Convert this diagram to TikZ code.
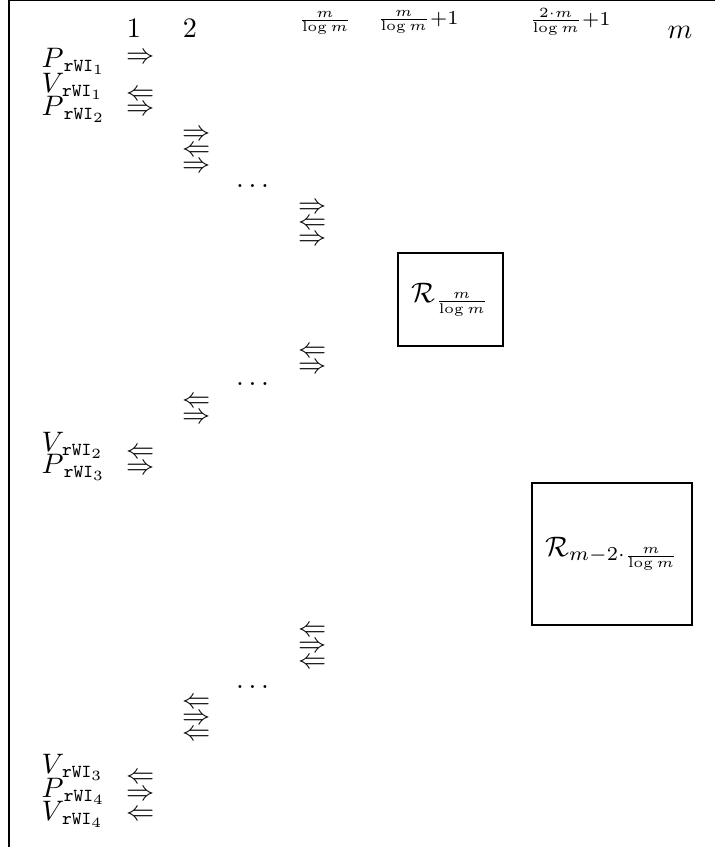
\documentclass[tikz,border=0pt]{standalone}
\usepackage{amsmath}
% typewriter party tag used as a subscript, e.g. P_{rWI_1}
\newcommand{\rwisub}[1]{\hspace{1.5pt}\text{\fontsize{6.5}{7.5}\selectfont\ttfamily rWI}_{#1}}
\begin{document}
\begin{tikzpicture}[x=0.355pt,y=-0.355pt,
  lbl/.style={anchor=base west, inner sep=0pt},
  hdr/.style={anchor=base, inner sep=0pt},
  frac/.style={inner sep=0pt, font=\scriptsize},
  arr/.style={inner sep=0pt},
  dots/.style={inner sep=0pt},
  region/.style={draw, line width=0.4pt, inner sep=0pt}]
\useasboundingbox (0,0) rectangle (715,847);
% frame
\coordinate (fTL) at (9,0.8);
\coordinate (fTR) at (718,0.8);
\coordinate (fBL) at (9,850);
\draw[line width=0.4pt] (fTR) -- (fTL) -- (fBL);

% column headers
\node[hdr] (h1) at (134,37) {$1$};
\node[hdr] (h2) at (190,37) {$2$};
\node[frac] (h3) at (325,23) {$\frac{m}{\log m}$};
\node[frac] (h4) at (418,22) {$\frac{m}{\log m}{+}1$};
\node[frac] (h5) at (570,22) {$\frac{2\cdot m}{\log m}{+}1$};
\node[hdr] (h6) at (680,38) {$m$};

% row labels
\node[lbl] (p1) at (41,67)  {$P_{\rwisub{1}}$};
\node[lbl] (v1) at (41,92)  {$V_{\rwisub{1}}$};
\node[lbl] (p2) at (41,115) {$P_{\rwisub{2}}$};
\node[lbl] (v2) at (41,451) {$V_{\rwisub{2}}$};
\node[lbl] (p3) at (41,473) {$P_{\rwisub{3}}$};
\node[lbl] (v3) at (41,773) {$V_{\rwisub{3}}$};
\node[lbl] (p4) at (41,797) {$P_{\rwisub{4}}$};
\node[lbl] (v4) at (41,820) {$V_{\rwisub{4}}$};

% message arrows, column 1
\node[arr] (a11) at (141,58)  {$\Rightarrow$};
\node[arr] (a12) at (141,95)  {$\Leftarrow$};
\node[arr] (a13) at (141,110) {$\Rightarrow$};
% column 2
\node[arr] (a21) at (197,135) {$\Rightarrow$};
\node[arr] (a22) at (197,151) {$\Leftarrow$};
\node[arr] (a23) at (197,167) {$\Rightarrow$};
\node[dots] (d1) at (255,186) {$\dots$};
% column m/log m
\node[arr] (a31) at (313,208) {$\Rightarrow$};
\node[arr] (a32) at (313,224) {$\Leftarrow$};
\node[arr] (a33) at (313,240) {$\Rightarrow$};

% first region
\node[region, minimum width=37.3pt, minimum height=33pt] (r1) at (450.5,299.5)
  {$\mathcal{R}_{\frac{m}{\log m}}$};

% returning arrows
\node[arr] (b31) at (313,352) {$\Leftarrow$};
\node[arr] (b32) at (313,368) {$\Rightarrow$};
\node[dots] (d2) at (255,384) {$\dots$};
\node[arr] (b21) at (197,402) {$\Leftarrow$};
\node[arr] (b22) at (197,418) {$\Rightarrow$};
\node[arr] (b11) at (141,453) {$\Leftarrow$};
\node[arr] (b12) at (141,469) {$\Rightarrow$};

% second region
\node[region, minimum width=56.8pt, minimum height=50.4pt] (r2) at (612,554)
  {$\mathcal{R}_{m-2\cdot\frac{m}{\log m}}$};

% final arrows
\node[arr] (c31) at (313,631) {$\Leftarrow$};
\node[arr] (c32) at (313,647) {$\Rightarrow$};
\node[arr] (c33) at (313,663) {$\Leftarrow$};
\node[dots] (d3) at (255,687) {$\dots$};
\node[arr] (c21) at (197,703) {$\Leftarrow$};
\node[arr] (c22) at (197,719) {$\Rightarrow$};
\node[arr] (c23) at (197,735) {$\Leftarrow$};
\node[arr] (c11) at (141,778) {$\Leftarrow$};
\node[arr] (c12) at (141,795) {$\Rightarrow$};
\node[arr] (c13) at (141,815) {$\Leftarrow$};
\end{tikzpicture}
\end{document}
